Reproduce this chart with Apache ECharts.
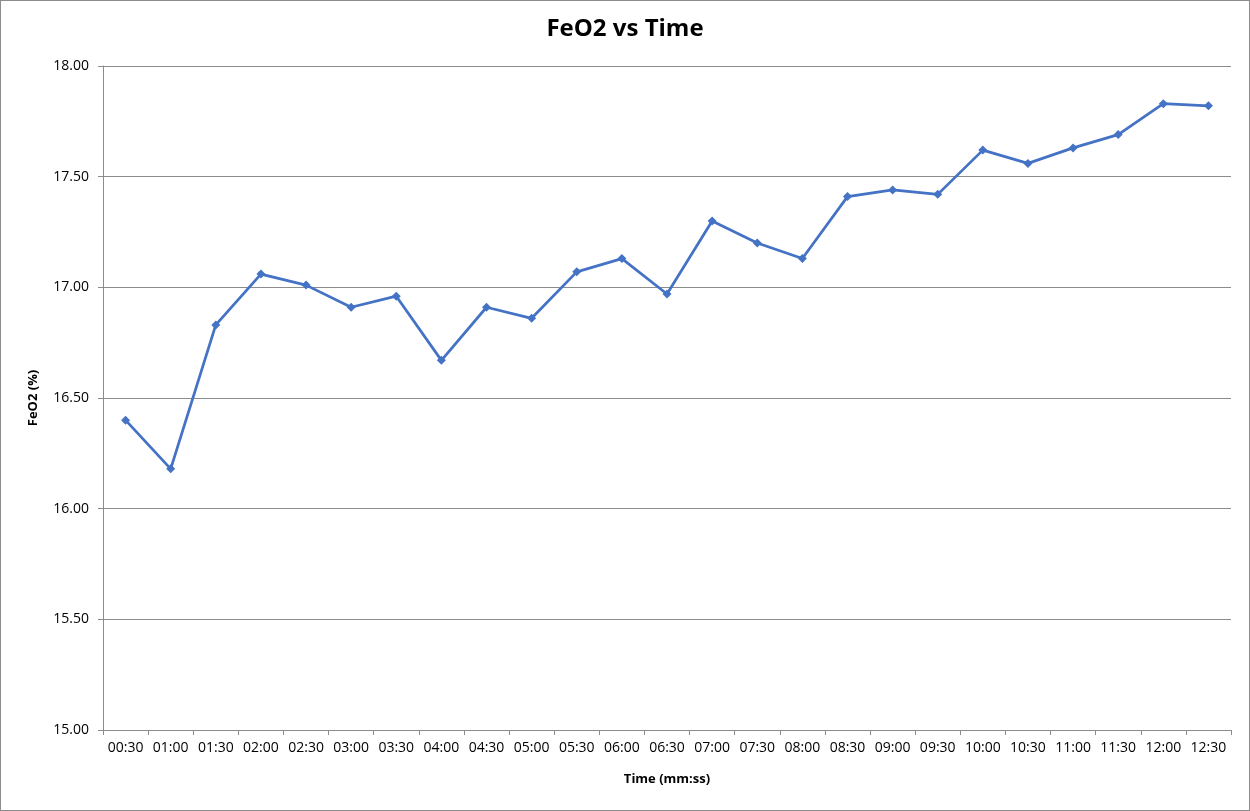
<!DOCTYPE html>
<html>
<head>
    <meta charset="utf-8">
    <title>FeO2 vs Time</title>
    <script src="https://cdn.jsdelivr.net/npm/echarts@6/dist/echarts.min.js"></script>
    <style>
        html, body { margin: 0; padding: 0; background: #fff; }
        #chart { width: 1248px; height: 809px; border: 1px solid #8c8c8c; }
    </style>
</head>
<body>
<div id="chart"></div>
<script>
    // 时间点 (mm:ss)
    var times = ['00:30', '01:00', '01:30', '02:00', '02:30', '03:00', '03:30', '04:00', '04:30',
        '05:00', '05:30', '06:00', '06:30', '07:00', '07:30', '08:00', '08:30', '09:00', '09:30',
        '10:00', '10:30', '11:00', '11:30', '12:00', '12:30'];
    // FeO2 (%)
    var feo2 = [16.40, 16.18, 16.83, 17.06, 17.01, 16.91, 16.96, 16.67, 16.91,
        16.86, 17.07, 17.13, 16.97, 17.30, 17.20, 17.13, 17.41, 17.44, 17.42,
        17.62, 17.56, 17.63, 17.69, 17.83, 17.82];

    var font = '"Open Sans", "Liberation Sans", sans-serif';
    var axisGray = '#8c8c8c';

    var myChart = echarts.init(document.getElementById('chart'));
    myChart.setOption({
        animation: false,
        title: {
            text: 'FeO2 vs Time',
            left: 'center',
            top: 11,
            textStyle: { fontFamily: font, fontSize: 24, fontWeight: 'bold', color: '#000' }
        },
        grid: { left: 102, right: 18, top: 65, bottom: 80 },
        xAxis: {
            type: 'category',
            data: times,
            boundaryGap: true,
            name: 'Time (mm:ss)',
            nameLocation: 'middle',
            nameGap: 43,
            nameTextStyle: { fontFamily: font, fontSize: 13, fontWeight: 'bold', color: '#000' },
            axisLine: { lineStyle: { color: axisGray, width: 1 } },
            axisTick: { show: true, length: 5, lineStyle: { color: axisGray } },
            axisLabel: { fontFamily: font, fontSize: 14, color: '#000', margin: 11, interval: 0 }
        },
        yAxis: {
            type: 'value',
            min: 15,
            max: 18,
            interval: 0.5,
            name: 'FeO2 (%)',
            nameLocation: 'middle',
            nameRotate: 90,
            nameGap: 63,
            nameTextStyle: { fontFamily: font, fontSize: 13, fontWeight: 'bold', color: '#000' },
            axisLine: { show: true, lineStyle: { color: axisGray, width: 1 } },
            axisTick: { show: true, length: 5, lineStyle: { color: axisGray } },
            axisLabel: {
                fontFamily: font, fontSize: 14, color: '#000', margin: 14,
                formatter: function (v) { return v.toFixed(2); }
            },
            splitLine: { lineStyle: { color: axisGray, width: 1 } }
        },
        series: [{
            name: 'FeO2',
            type: 'line',
            data: feo2,
            symbol: 'diamond',
            symbolSize: 9,
            lineStyle: { color: '#4472C4', width: 2.75 },
            itemStyle: { color: '#4472C4' }
        }]
    });
</script>
</body>
</html>
